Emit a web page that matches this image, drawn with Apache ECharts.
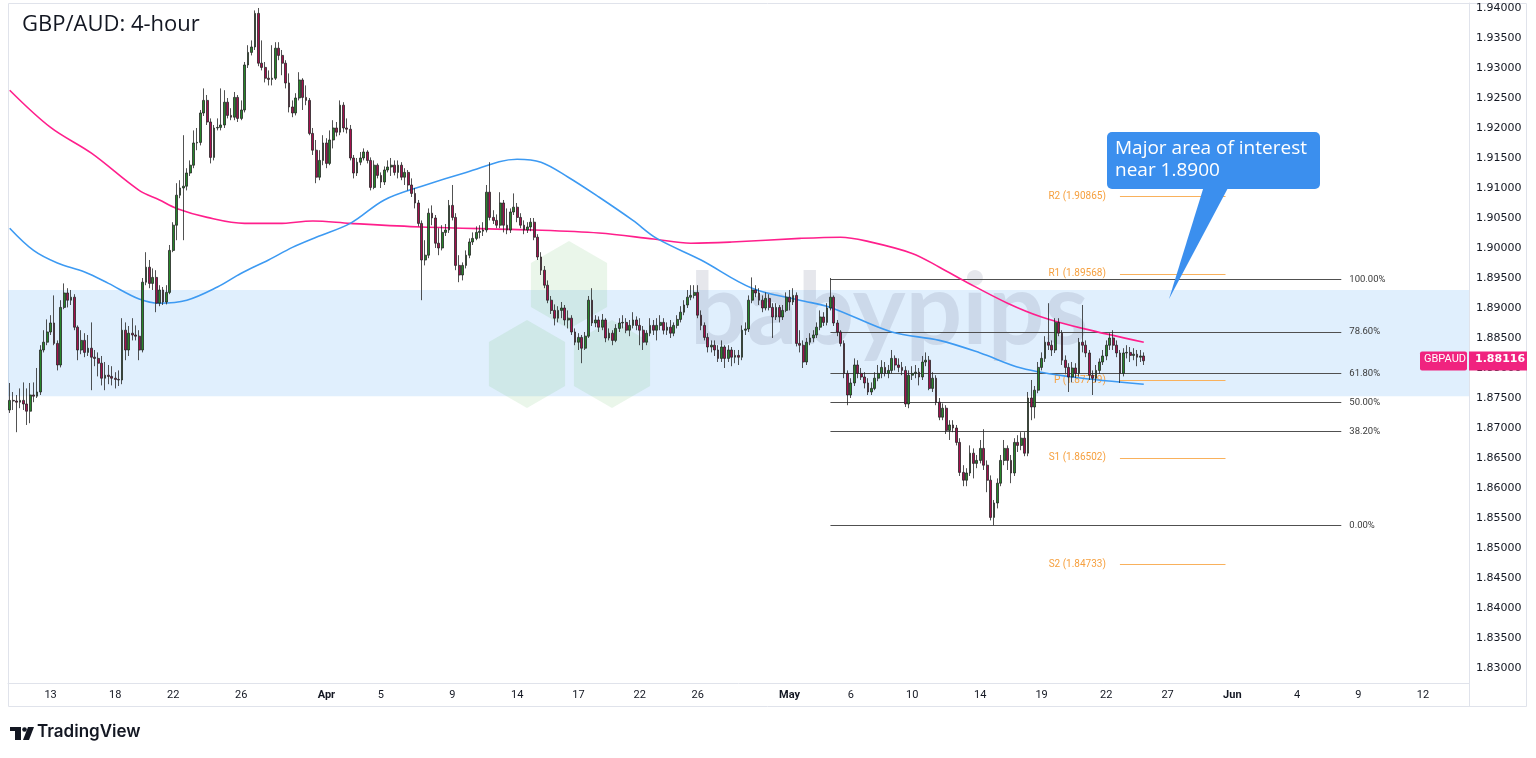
<!DOCTYPE html>
<html>
<head>
<meta charset="utf-8">
<title>GBP/AUD: 4-hour</title>
<script src="https://cdn.jsdelivr.net/npm/echarts@6.0.0/dist/echarts.min.js"></script>
<style>
  html, body { margin: 0; padding: 0; background: #fff; }
  #chart { width: 1536px; height: 758px; }
</style>
</head>
<body>
<div id="chart"></div>
<script>
// 4h candles, in pips (price x 10000): [open, close, low, high]
const marchCandles = [
  [18730,18746,18725,18775],[18746,18745,18730,18760],[18745,18743,18693,18755],[18743,18746,18733,18766],
  [18746,18740,18730,18776],[18740,18728,18705,18766],[18728,18755,18708,18775],[18755,18753,18743,18776],
  [18753,18760,18750,18800],[18760,18830,18755,18838],[18830,18843,18826,18863],[18843,18860,18838,18881],
  [18860,18875,18855,18888],[18875,18841,18838,18921],[18841,18805,18796,18846],[18805,18901,18801,18913],
  [18901,18925,18898,18941],[18925,18913,18901,18933],[18913,18918,18905,18930],[18918,18868,18863,18923],
  [18868,18830,18813,18871],[18830,18846,18823,18863],[18846,18826,18818,18858],[18826,18833,18820,18855],
  [18833,18818,18763,18876],[18818,18816,18803,18830],[18816,18808,18786,18826],[18808,18783,18771,18820],
  [18783,18788,18763,18810],[18788,18786,18773,18805],[18786,18783,18771,18803],[18783,18781,18766,18793],
  [18781,18780,18770,18796],[18780,18863,18773,18883],[18863,18830,18813,18876],[18830,18858,18820,18870],
  [18858,18855,18846,18883],[18855,18853,18846,18871],[18853,18830,18813,18863],[18830,18943,18826,18950],
  [18943,18968,18938,18993],[18968,18941,18933,18980],[18941,18951,18930,18966],[18951,18908,18893,18963],
  [18908,18930,18903,18938],[18930,18910,18905,18935],[18910,18926,18906,18938],[18926,18996,18923,19005],
  [18996,19038,18993,19043],[19038,19088,19013,19108],[19088,19100,19083,19113],[19100,19103,19013,19188],
  [19103,19125,19096,19133],[19125,19138,19120,19146],[19138,19175,19133,19196],[19175,19176,19163,19200],
  [19176,19225,19171,19230],[19225,19246,19220,19266],[19246,19210,19205,19255],[19210,19151,19141,19216],
  [19151,19200,19146,19205],[19200,19201,19196,19216],[19201,19205,19196,19266],[19205,19243,19200,19263],
  [19243,19221,19216,19250],[19221,19218,19213,19233],[19218,19251,19213,19260],[19251,19216,19210,19255],
  [19216,19230,19213,19246],[19230,19305,19226,19310],[19305,19326,19300,19338],[19326,19335,19321,19346],
  [19335,19391,19330,19396],[19391,19308,19303,19400],[19308,19301,19296,19346],[19301,19283,19276,19310],
  [19283,19281,19271,19296],[19281,19283,19271,19338],[19283,19333,19280,19343],[19333,19321,19313,19343],
  [19321,19308,19288,19330],[19308,19275,19266,19313],[19275,19235,19226,19291],[19235,19225,19218,19246],
  [19225,19250,19221,19258],[19250,19280,19246,19293],[19280,19251,19230,19283],[19251,19246,19238,19271],
  [19246,19191,19188,19250],[19191,19163,19155,19200],[19163,19118,19108,19180],[19118,19146,19113,19163],
  [19146,19175,19138,19188]
];
const aprilCandles = [
  [19175,19141,19133,19183],[19141,19180,19138,19196],[19180,19200,19166,19213],[19200,19193,19186,19210],
  [19193,19238,19188,19246],[19238,19200,19193,19243],[19200,19198,19191,19216],[19198,19150,19146,19205],
  [19150,19125,19116,19155],[19125,19143,19120,19150],[19143,19150,19138,19160],[19150,19160,19146,19166],
  [19160,19146,19141,19163],[19146,19101,19096,19151],[19101,19138,19098,19146],[19138,19121,19116,19141],
  [19121,19110,19100,19126],[19110,19130,19105,19136],[19130,19135,19126,19146],[19135,19138,19120,19150],
  [19138,19126,19121,19146],[19126,19138,19116,19146],[19138,19118,19113,19143],[19118,19126,19105,19133],
  [19126,19105,19096,19130],[19105,19091,19085,19116],[19091,19075,19066,19100],[19075,19041,19036,19080],
  [19041,18980,18913,19046],[18980,18988,18971,19013],[18988,19058,18983,19066],[19058,19050,19038,19071],
  [19050,19008,19000,19055],[19008,19000,18988,19033],[19000,19026,18996,19038],[19026,19030,19020,19040],
  [19030,19071,19025,19080],[19071,19051,19046,19105],[19051,18971,18963,19058],[18971,18955,18943,18988],
  [18955,18971,18946,18976],[18971,18988,18966,18996],[18988,19010,18983,19016],[19010,19016,19005,19026],
  [19016,19026,19013,19036],[19026,19028,19016,19038],[19028,19030,19020,19043],[19030,19093,19026,19105],
  [19093,19051,19046,19143],[19051,19046,19040,19063],[19046,19038,19033,19056],[19038,19075,19033,19093],
  [19075,19038,19026,19080],[19038,19030,19023,19066],[19030,19060,19025,19066],[19060,19068,19055,19091],
  [19068,19051,19043,19075],[19051,19038,19033,19058],[19038,19030,19023,19046],[19030,19035,19025,19043],
  [19035,19043,19028,19050],[19043,19018,19013,19050],[19018,18985,18980,19023],[18985,18963,18955,18993],
  [18963,18938,18933,18970],[18938,18913,18908,18946],[18913,18896,18890,18920],[18896,18883,18871,18906],
  [18883,18896,18876,18903],[18896,18900,18883,18910],[18900,18880,18871,18905],[18880,18883,18866,18896],
  [18883,18860,18855,18888],[18860,18843,18838,18866],[18843,18851,18830,18858],[18851,18833,18808,18855],
  [18833,18853,18830,18860],[18853,18913,18850,18920],[18913,18875,18870,18933],[18875,18880,18868,18888],
  [18880,18868,18860,18886],[18868,18880,18863,18890],[18880,18850,18843,18883],[18850,18858,18846,18866],
  [18858,18846,18838,18863],[18846,18866,18843,18873],[18866,18875,18860,18883],[18875,18876,18866,18888],
  [18876,18863,18858,18883],[18863,18871,18853,18880],[18871,18880,18866,18893],[18880,18871,18863,18886],
  [18871,18863,18838,18883],[18863,18843,18830,18870],[18843,18858,18838,18863],[18858,18871,18853,18883],
  [18871,18863,18855,18880],[18863,18871,18846,18883],[18871,18876,18863,18888],[18876,18863,18856,18883],
  [18863,18868,18855,18876],[18868,18858,18850,18880],[18858,18871,18853,18876],[18871,18881,18866,18888],
  [18881,18893,18876,18903],[18893,18905,18888,18913],[18905,18918,18900,18930],[18918,18921,18913,18938],
  [18921,18926,18916,18938],[18926,18888,18883,18938],[18888,18871,18863,18896],[18871,18851,18846,18876],
  [18851,18835,18826,18858],[18835,18838,18826,18846],[18838,18830,18820,18846],[18830,18816,18810,18838],
  [18816,18835,18810,18846],[18835,18816,18800,18838],[18816,18830,18810,18838],[18830,18818,18803,18835],
  [18818,18821,18808,18830],[18821,18818,18805,18830],[18818,18863,18813,18871],[18863,18865,18855,18876],
  [18865,18913,18860,18921],[18913,18930,18908,18951],[18930,18925,18918,18938],[18925,18913,18905,18933],
  [18913,18900,18893,18921],[18900,18916,18896,18926],[18916,18901,18896,18923],[18901,18885,18850,18908],
  [18885,18901,18880,18908],[18901,18885,18876,18905],[18885,18896,18880,18905],[18896,18918,18893,18926]
];
const mayCandles = [
  [18918,18910,18896,18930],[18910,18921,18905,18933],[18921,18841,18836,18926],[18841,18838,18826,18863],
  [18838,18810,18800,18846],[18810,18843,18805,18850],[18843,18850,18838,18858],[18850,18855,18843,18863],
  [18855,18868,18850,18876],[18868,18885,18863,18896],[18885,18876,18870,18893],[18876,18900,18871,18908],
  [18900,18918,18896,18950],[18918,18875,18870,18921],[18875,18860,18853,18880],[18860,18841,18836,18863],
  [18841,18791,18783,18846],[18791,18755,18738,18796],[18755,18775,18750,18783],[18775,18805,18770,18816],
  [18805,18791,18783,18813],[18791,18785,18780,18800],[18785,18775,18766,18793],[18775,18760,18755,18783],
  [18760,18766,18755,18776],[18766,18783,18763,18793],[18783,18791,18778,18805],[18791,18801,18783,18813],
  [18801,18791,18786,18810],[18791,18796,18783,18805],[18796,18816,18791,18830],[18816,18805,18796,18821],
  [18805,18801,18793,18816],[18801,18796,18788,18810],[18796,18740,18735,18803],[18740,18788,18733,18796],
  [18788,18791,18780,18803],[18791,18793,18783,18805],[18793,18785,18771,18800],[18785,18810,18780,18820],
  [18810,18813,18803,18826],[18813,18766,18763,18820],[18766,18783,18760,18793],[18783,18743,18738,18788],
  [18743,18718,18713,18750],[18718,18733,18713,18741],[18733,18696,18690,18738],[18696,18705,18680,18713],
  [18705,18700,18693,18713],[18700,18676,18671,18705],[18676,18626,18620,18683],[18626,18613,18603,18638],
  [18613,18625,18603,18633],[18625,18658,18620,18671],[18658,18641,18616,18666],[18641,18646,18633,18655],
  [18646,18666,18641,18680],[18666,18638,18630,18698],[18638,18613,18593,18646],[18613,18551,18546,18621],
  [18551,18575,18538,18580],[18575,18608,18566,18616],[18608,18646,18603,18655],[18646,18666,18638,18680],
  [18666,18646,18630,18671],[18646,18625,18608,18655],[18625,18676,18620,18683],[18676,18671,18660,18688],
  [18671,18683,18663,18693],[18683,18658,18653,18693],[18658,18750,18653,18760],[18750,18735,18713,18780],
  [18735,18763,18716,18770],[18763,18801,18758,18810],[18801,18816,18796,18826],[18816,18843,18810,18853],
  [18843,18838,18830,18908],[18838,18830,18820,18846],[18830,18876,18825,18883],[18876,18858,18853,18883],
  [18858,18813,18805,18863],[18813,18801,18791,18821],[18801,18785,18760,18808],[18785,18800,18776,18810],
  [18800,18791,18783,18808],[18791,18843,18786,18850],[18843,18838,18826,18905],[18838,18825,18818,18846],
  [18825,18788,18780,18830],[18788,18783,18755,18796],[18783,18796,18776,18805],[18796,18810,18790,18816],
  [18810,18820,18805,18830],[18820,18838,18813,18846],[18838,18850,18830,18858],[18850,18838,18830,18863],
  [18838,18825,18818,18846],[18825,18791,18775,18830],[18791,18825,18786,18833],[18825,18826,18816,18838],
  [18826,18821,18810,18835],[18821,18823,18813,18833],[18823,18818,18803,18830],[18818,18820,18810,18830],
  [18820,18812,18805,18826]
];

// moving averages read at a few candles (index, pips)
const pinkMaIdx  = [0,12,24,38,44,49,58,69,79,89,100,121,154,173,189,200,212,232,244,252,265,273,281,293,303,315,333];
const pinkMaPips = [19263,19201,19158,19096,19080,19066,19051,19041,19041,19045,19041,19035,19030,19025,19015,19008,19010,19016,19018,19011,18991,18968,18943,18908,18885,18866,18843];
const blueMaIdx  = [0,7,14,22,29,38,44,52,61,68,76,83,90,100,110,121,134,149,156,164,173,183,190,203,218,232,241,259,273,285,297,312,333];
const blueMaPips = [19033,18996,18975,18960,18941,18915,18908,18913,18935,18958,18980,19001,19018,19041,19080,19103,19126,19148,19143,19118,19085,19046,19016,18980,18933,18913,18901,18860,18846,18825,18800,18785,18773];

const yTicks = [1.83,1.835,1.84,1.845,1.85,1.855,1.86,1.865,1.87,1.875,1.88,1.885,1.89,1.895,1.90,1.905,1.91,1.915,1.92,1.925,1.93,1.935,1.94];
const dateLabelIdx = [12,31,48,68,93,109,130,149,167,185,202,229,247,265,285,303,322,340,359,378,396,415];
const dateLabels   = ['13','18','22','26','Apr','5','9','14','17','22','26','May','6','10','14','19','22','27','Jun','4','9','12'];

const fibHigh = 1.8948, fibLow = 1.8538;
const fibRatios = [1, 0.786, 0.618, 0.5, 0.382, 0];
const fibNames  = ['100.00%','78.60%','61.80%','50.00%','38.20%','0.00%'];
const pivotNames  = ['R2','R1','P','S1','S2'];
const pivotLevels = [1.90865, 1.89568, 1.87799, 1.86502, 1.84733];
const zoneLow = 1.8753, zoneHigh = 1.8930;
const lastPrice = 1.88116;
const slotCount = 429;

const candles = marchCandles.concat(aprilCandles, mayCandles).map(r => r.map(v => v / 10000));
const categories = Array.from({ length: slotCount }, (_, i) => String(i));
const labelAt = {};
dateLabelIdx.forEach((k, j) => { labelAt[k] = dateLabels[j]; });
const toLine = (idx, pips) => idx.map((k, j) => [k, pips[j] / 10000]);

const chart = echarts.init(document.getElementById('chart'));

const fibLines = fibRatios.map((r, j) => {
  const v = fibLow + (fibHigh - fibLow) * r;
  return [
    { coord: [241, v], lineStyle: { color: '#505050', width: 1, type: 'solid' },
      label: { show: true, position: 'end', distance: 8, formatter: fibNames[j], color: '#3a3a3a', fontSize: 9.5, fontFamily: 'Roboto' } },
    { coord: [391, v] }
  ];
});
const pivotLines = pivotLevels.map((v, j) => [
  { coord: [326, v], lineStyle: { color: '#f9b15c', width: 1, type: 'solid' },
    label: { show: true, position: 'start', distance: 14, formatter: pivotNames[j] + ' (' + v.toFixed(5) + ')', color: '#f6a03f', fontSize: 10, fontFamily: 'Roboto' } },
  { coord: [357, v] }
]);

chart.setOption({
  backgroundColor: '#ffffff',
  animation: false,
  grid: { left: 8, right: 67, top: 3, bottom: 75 },
  xAxis: {
    type: 'category',
    data: categories,
    boundaryGap: true,
    axisLine: { lineStyle: { color: '#e0e3eb' } },
    axisTick: { show: false },
    splitLine: { show: false },
    axisLabel: {
      interval: (i) => labelAt[i] !== undefined,
      formatter: (v, i) => {
        const t = labelAt[i];
        return /[A-Za-z]/.test(t) ? '{b|' + t + '}' : t;
      },
      margin: 7,
      fontSize: 11,
      color: '#131722',
      fontFamily: 'Roboto',
      rich: { b: { fontWeight: 'bold', fontSize: 11, color: '#131722', fontFamily: 'Roboto' } }
    }
  },
  yAxis: {
    type: 'value',
    position: 'right',
    min: 1.8275,
    max: 1.940833,
    scale: true,
    splitLine: { show: false },
    axisLine: { show: true, lineStyle: { color: '#e0e3eb' } },
    axisTick: { show: false },
    axisLabel: {
      customValues: yTicks,
      formatter: (v) => v.toFixed(5),
      margin: 7,
      fontSize: 11,
      color: '#131722',
      fontFamily: 'DejaVu Sans'
    }
  },
  series: [
    {
      name: 'zone',
      type: 'line',
      z: 1,
      data: [[0, 1.88]],
      showSymbol: false,
      lineStyle: { opacity: 0 },
      markArea: {
        silent: true,
        itemStyle: { color: 'rgba(33,140,240,0.14)' },
        data: [[{ yAxis: zoneLow }, { yAxis: zoneHigh }]]
      }
    },
    {
      name: 'levels',
      type: 'line',
      z: 4,
      data: [[0, 1.88]],
      showSymbol: false,
      lineStyle: { opacity: 0 },
      markLine: { silent: true, symbol: 'none', data: fibLines.concat(pivotLines) }
    },
    {
      name: 'GBPAUD',
      type: 'candlestick',
      z: 6,
      data: candles,
      barWidth: 2.3,
      itemStyle: {
        color: '#27852a',
        color0: '#a3114d',
        borderColor: '#262626',
        borderColor0: '#262626',
        borderWidth: 0.8
      }
    },
    {
      name: 'MA slow',
      type: 'line',
      z: 5,
      data: toLine(pinkMaIdx, pinkMaPips),
      smooth: 0.35,
      showSymbol: false,
      lineStyle: { color: '#ff1f8c', width: 1.6 }
    },
    {
      name: 'MA fast',
      type: 'line',
      z: 5,
      data: toLine(blueMaIdx, blueMaPips),
      smooth: 0.35,
      showSymbol: false,
      lineStyle: { color: '#3d9af2', width: 1.6 }
    }
  ]
});

// annotations placed after the scales exist
const tagY = chart.convertToPixel({ yAxisIndex: 0 }, lastPrice);
const hexPts = (cx, cy, r) => Array.from({ length: 6 }, (_, k) => {
  const a = Math.PI / 180 * (60 * k - 90);
  return [cx + r * Math.cos(a), cy + r * Math.sin(a)];
});
chart.setOption({
  graphic: [
    { type: 'polygon', z: 3, silent: true, shape: { points: hexPts(569, 285, 44) }, style: { fill: 'rgba(90,185,90,0.13)' } },
    { type: 'polygon', z: 3, silent: true, shape: { points: hexPts(527, 364, 44) }, style: { fill: 'rgba(90,185,90,0.13)' } },
    { type: 'polygon', z: 3, silent: true, shape: { points: hexPts(612, 364, 44) }, style: { fill: 'rgba(90,185,90,0.13)' } },
    { type: 'text', z: 3, silent: true, left: 690, top: 262,
      style: { text: 'babypips', font: 'bold 100px Lato', fill: 'rgba(105,115,140,0.17)' } },
    { type: 'text', z: 20, left: 22, top: 14,
      style: { text: 'GBP/AUD: 4-hour', font: '22px "Open Sans"', fill: '#131722' } },
    { type: 'polygon', z: 20, shape: { points: [[1204, 186], [1229, 186], [1169, 299]] }, style: { fill: '#3b8fee' } },
    { type: 'rect', z: 20, shape: { x: 1107, y: 132, width: 213, height: 57, r: 5 }, style: { fill: '#3b8fee' } },
    { type: 'text', z: 21, left: 1115, top: 138,
      style: { text: 'Major area of interest\nnear 1.8900', font: '19px "Open Sans"', lineHeight: 22, fill: '#ffffff' } },
    { type: 'rect', z: 20, shape: { x: 1420, y: tagY - 9.5, width: 47, height: 19, r: 2 }, style: { fill: '#f0237f' } },
    { type: 'text', z: 21, left: 1424, top: tagY - 7,
      style: { text: 'GBPAUD', font: '11px Roboto', fill: '#ffffff' } },
    { type: 'rect', z: 20, shape: { x: 1469, y: tagY - 9.5, width: 58, height: 19 }, style: { fill: '#f0237f' } },
    { type: 'text', z: 21, left: 1475, top: tagY - 7,
      style: { text: lastPrice.toFixed(5), font: 'bold 11px "DejaVu Sans"', fill: '#ffffff' } },
    { type: 'rect', z: 0, silent: true, shape: { x: 8.5, y: 3.5, width: 1518, height: 703 }, style: { fill: 'none', stroke: '#e0e3eb', lineWidth: 1 } },
    { type: 'line', z: 0, silent: true, shape: { x1: 1469.5, y1: 3, x2: 1469.5, y2: 707 }, style: { stroke: '#e0e3eb', lineWidth: 1 } },
    { type: 'rect', z: 20, shape: { x: 10, y: 727, width: 11, height: 4 }, style: { fill: '#131722' } },
    { type: 'rect', z: 20, shape: { x: 15, y: 727, width: 6, height: 13 }, style: { fill: '#131722' } },
    { type: 'circle', z: 20, shape: { cx: 24.5, cy: 729.5, r: 2.3 }, style: { fill: '#131722' } },
    { type: 'polygon', z: 20, shape: { points: [[28, 727], [34, 727], [29, 740], [23, 740]] }, style: { fill: '#131722' } },
    { type: 'text', z: 20, left: 37, top: 723,
      style: { text: 'TradingView', font: '600 17px Inter', fill: '#131722' } }
  ]
});
</script>
</body>
</html>
